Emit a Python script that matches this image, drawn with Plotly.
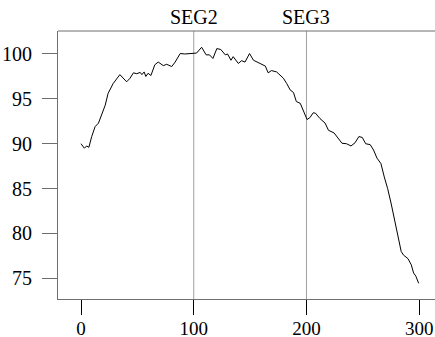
import plotly.graph_objects as go

x_vals = [0, 3, 5, 7, 9.5, 12.5, 15.5, 18.5, 21.5, 24, 28.5, 34.5, 40.5, 43.5, 46.5, 49.5,
          52.5, 54, 56, 57.5, 59.5, 62, 65.5, 68.5, 73, 76, 80.5, 83.5, 88, 92, 96.5, 100.5,
          102.5, 107, 111, 114, 117, 120.5, 124, 128, 130, 133, 135, 139.5, 142.5, 145.5,
          149.5, 153, 157.5, 160.5, 163.5, 166, 169, 173.5, 176.5, 179.5, 182.5, 185.5,
          188.5, 191, 194.5, 197.5, 200.5, 203, 206, 208, 212, 216.5, 219.5, 224.5, 228.5,
          231.5, 235.5, 239.5, 243, 246.5, 249.5, 252.5, 256.5, 259.5, 262.5, 266, 269, 272,
          275, 278, 281, 284, 286, 290, 293, 295, 297, 299.5]
y_vals = [90.0, 89.5, 89.75, 89.6, 90.8, 91.9, 92.3, 93.2, 94.3, 95.6, 96.7, 97.7, 96.9, 97.3,
          97.9, 97.8, 97.95, 97.7, 98.0, 97.5, 97.85, 97.6, 98.8, 99.1, 98.7, 98.85, 98.6, 99.1,
          100.05, 100.0, 100.05, 100.15, 100.1, 100.75, 99.9, 99.9, 99.5, 100.6, 100.5, 99.9,
          100.0, 99.3, 99.7, 98.95, 99.25, 99.1, 100.05, 99.3, 99.0, 98.8, 98.65, 97.9, 98.15,
          98.0, 97.65, 97.3, 96.7, 96.0, 95.7, 94.7, 94.5, 93.6, 92.7, 92.9, 93.45, 93.4, 92.8,
          92.3, 91.5, 91.2, 90.6, 90.05, 90.0, 89.75, 90.1, 90.8, 90.7, 90.0, 89.9, 89.3, 88.4,
          87.8, 86.3, 85.0, 83.4, 81.5, 79.6, 78.0, 77.6, 77.2, 76.5, 75.6, 75.25, 74.45]

seg_positions = [100, 200]
seg_labels = ["SEG2", "SEG3"]
x_ticks = [0, 100, 200, 300]
y_ticks = [75, 80, 85, 90, 95, 100]

FONT = "Liberation Serif"
FRAME = "#6e6e6e"

fig = go.Figure()
fig.add_trace(go.Scatter(x=x_vals, y=y_vals, mode="lines",
                         line=dict(color="black", width=1), showlegend=False))

for pos, lab in zip(seg_positions, seg_labels):
    fig.add_shape(type="line", xref="x", yref="paper", x0=pos, x1=pos, y0=0, y1=1,
                  line=dict(color="#a0a0a0", width=1), layer="below")
    fig.add_annotation(x=pos, xref="x", y=1, yref="paper", text=lab, showarrow=False,
                       yanchor="bottom", yshift=1, font=dict(family=FONT, size=20, color="black"))

# top frame line
fig.add_shape(type="line", xref="paper", yref="paper", x0=0, x1=1, y0=1, y1=1,
              line=dict(color=FRAME, width=1.2))

fig.update_layout(
    width=435, height=337,
    margin=dict(l=58, r=0, t=31, b=38),
    plot_bgcolor="white", paper_bgcolor="white",
    font=dict(family=FONT, size=20, color="black"),
    xaxis=dict(range=[-20.4, 314], tickvals=x_ticks, ticks="outside", ticklen=15,
               tickcolor="black", tickwidth=1, showgrid=False, zeroline=False,
               showline=True, linecolor=FRAME, linewidth=1.2, ticklabelstandoff=-3,
               tickfont=dict(family=FONT, size=19, color="black"),
               automargin=False),
    yaxis=dict(range=[72.7, 102.56], tickvals=y_ticks, ticks="outside", ticklen=15,
               tickcolor=FRAME, tickwidth=1, showgrid=False, zeroline=False,
               showline=True, linecolor=FRAME, linewidth=1.2, ticklabelstandoff=6,
               automargin=False),
)

fig.write_html("out.html", config={"displayModeBar": False},
               post_script="document.body.style.margin='0';document.body.style.overflow='hidden';")
